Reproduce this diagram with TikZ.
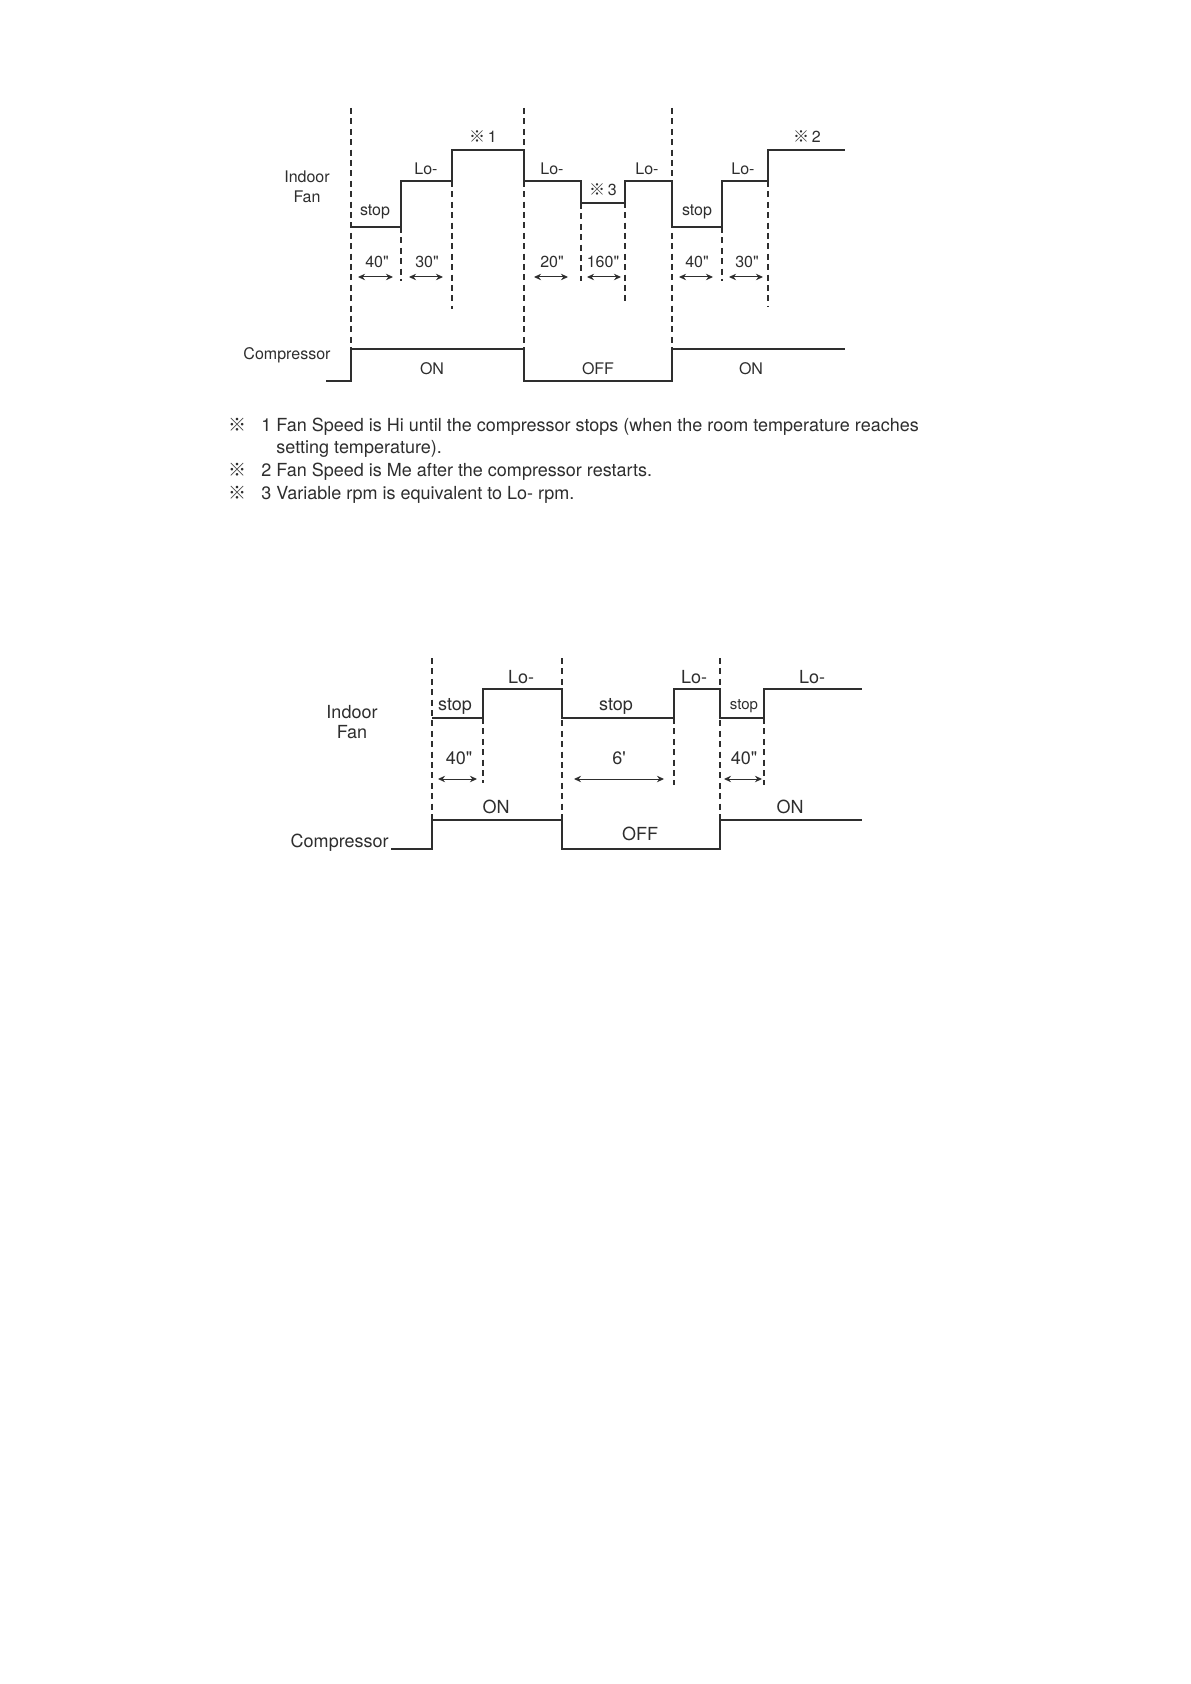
\documentclass[tikz,border=0pt]{standalone}
\usepackage{fontspec}
\newfontfamily\hv{TeX Gyre Heros}
\newfontfamily\cjk{Noto Sans CJK JP}
\usetikzlibrary{arrows.meta}
\definecolor{ink}{HTML}{2E2E2E}
\begin{document}
\begin{tikzpicture}[x=0.5pt,y=-0.5pt,
  wave/.style={draw=ink,line width=1.1pt,line join=miter},
  guide/.style={draw=ink,line width=0.6pt,dash pattern=on 3pt off 2.2pt},
  dim/.style={draw=ink,line width=0.5pt,{Stealth[length=3.5pt,width=3.2pt]}-{Stealth[length=3.5pt,width=3.2pt]}},
  lbl/.style={inner sep=0pt,text=ink,font=\hv\fontsize{8}{9.6}\selectfont},
  lblb/.style={inner sep=0pt,text=ink,font=\hv\fontsize{9}{10.8}\selectfont},
  note/.style={inner sep=0pt,text=ink,anchor=base west,font=\hv\fontsize{9}{10.8}\selectfont},
]
\useasboundingbox (0,0) rectangle (1190,1684);
\fill[white] (0,0) rectangle (1190,1684);

% ================= Diagram 1 =================
% main guides
\draw[guide] (351,108) -- (351,349);
\draw[guide] (524,108) -- (524,349);
\draw[guide] (672,108) -- (672,349);
% short guides
\draw[guide] (401,227) -- (401,281);
\draw[guide] (452,181) -- (452,309);
\draw[guide] (581,203) -- (581,281);
\draw[guide] (625,181) -- (625,305);
\draw[guide] (722,227) -- (722,281);
\draw[guide] (768,181) -- (768,307);
% fan waveform
\draw[wave] (351,227) -- (401,227) -- (401,181) -- (452,181) -- (452,150) -- (524,150)
  -- (524,181) -- (581,181) -- (581,203) -- (625,203) -- (625,181) -- (672,181)
  -- (672,227) -- (722,227) -- (722,181) -- (768,181) -- (768,150) -- (845,150);
% compressor waveform
\draw[wave] (326,381) -- (351,381) -- (351,349) -- (524,349) -- (524,381)
  -- (672,381) -- (672,349) -- (845,349);
% labels
\node[lbl] (a-indoor) at (307,177) {Indoor};
\node[lbl] (a-fan) at (307,197) {Fan};
\node[lbl] (a-stop1) at (375,212) {stop};
\node[lbl] (a-lo1) at (426,169) {Lo-};
\node[lbl] (a-n1) at (483,137) {{\cjk ※}\,1};
\node[lbl] (a-lo2) at (552,169) {Lo-};
\node[lbl] (a-n3) at (603,190) {{\cjk ※}\,3};
\node[lbl] (a-lo3) at (647,169) {Lo-};
\node[lbl] (a-stop2) at (697,212) {stop};
\node[lbl] (a-lo4) at (743,169) {Lo-};
\node[lbl] (a-n2) at (807,137) {{\cjk ※}\,2};
\node[lbl] (a-t1) at (377,262) {40"};
\node[lbl] (a-t2) at (427,262) {30"};
\node[lbl] (a-t3) at (552,262) {20"};
\node[lbl] (a-t4) at (603,262) {160"};
\node[lbl] (a-t5) at (697,262) {40"};
\node[lbl] (a-t6) at (747,262) {30"};
\draw[dim] (358,277) -- (393,277);
\draw[dim] (409,277) -- (443,277);
\draw[dim] (534,277) -- (568,277);
\draw[dim] (587,277) -- (621,277);
\draw[dim] (679,277) -- (713,277);
\draw[dim] (729,277) -- (763,277);
\node[lbl] (a-comp) at (287,355) {Compressor};
\node[lbl] (a-on1) at (432,369) {ON};
\node[lbl] (a-off) at (598,369) {OFF};
\node[lbl] (a-on2) at (751,369) {ON};

% footnotes
\node[note,anchor=base] (f-m1) at (237,431) {\cjk ※};
\node[note] (f-1) at (261,431) {1 Fan Speed is Hi until the compressor stops (when the room temperature reaches};
\node[note] (f-1b) at (276,453) {setting temperature).};
\node[note,anchor=base] (f-m2) at (237,476) {\cjk ※};
\node[note] (f-2) at (261,476) {2 Fan Speed is Me after the compressor restarts.};
\node[note,anchor=base] (f-m3) at (237,499) {\cjk ※};
\node[note] (f-3) at (261,499) {3 Variable rpm is equivalent to Lo- rpm.};

% ================= Diagram 2 =================
\draw[guide] (432,658) -- (432,820);
\draw[guide] (562,658) -- (562,820);
\draw[guide] (720,658) -- (720,820);
\draw[guide] (483,718) -- (483,783);
\draw[guide] (674,718) -- (674,785);
\draw[guide] (764,718) -- (764,785);
\draw[wave] (432,718) -- (483,718) -- (483,689) -- (562,689) -- (562,718) -- (674,718)
  -- (674,689) -- (720,689) -- (720,718) -- (764,718) -- (764,689) -- (862,689);
\draw[wave] (391,849) -- (432,849) -- (432,820) -- (562,820) -- (562,849)
  -- (720,849) -- (720,820) -- (862,820);
\node[lblb] (b-indoor) at (352,712) {Indoor};
\node[lblb] (b-fan) at (352,732) {Fan};
\node[lblb] (b-stop1) at (455,706) {stop};
\node[lblb] (b-lo1) at (521,677) {Lo-};
\node[lblb] (b-stop2) at (616,706) {stop};
\node[lblb] (b-lo2) at (694,677) {Lo-};
\node[lbl,font=\hv\fontsize{7.5}{9}\selectfont] (b-stop3) at (744,706) {stop};
\node[lblb] (b-lo3) at (812,677) {Lo-};
\node[lblb] (b-t1) at (459,758) {40"};
\node[lblb] (b-t2) at (619,758) {6'};
\node[lblb] (b-t3) at (744,758) {40"};
\draw[dim] (438,779) -- (477,779);
\draw[dim] (574,779) -- (664,779);
\draw[dim] (724,779) -- (762,779);
\node[lblb,anchor=east] (b-comp) at (389,843) {Compressor};
\node[lblb] (b-on1) at (496,807) {ON};
\node[lblb] (b-off) at (640,834) {OFF};
\node[lblb] (b-on2) at (790,807) {ON};
\end{tikzpicture}
\end{document}
